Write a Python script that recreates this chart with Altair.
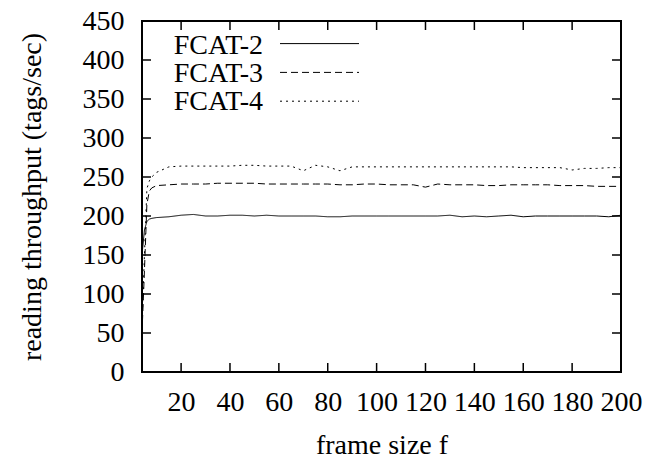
import altair as alt
import pandas as pd

# ---- data ----
frame_size = [4, 5, 6, 7, 8, 10, 15, 20, 25, 30, 35, 40, 45, 50, 55, 60, 65, 70, 75,
              80, 85, 90, 95, 100, 105, 110, 115, 120, 125, 130, 135, 140, 145, 150,
              155, 160, 165, 170, 175, 180, 185, 190, 195, 200]

fcat2 = [150, 182, 193, 196, 197, 198, 199, 201, 202, 200, 200, 201, 201, 200, 201,
         200, 200, 200, 200, 199, 199, 200, 200, 200, 200, 200, 200, 200, 200, 201,
         199, 200, 199, 200, 201, 199, 200, 200, 200, 200, 200, 200, 199, 201]

fcat3 = [50, 130, 215, 232, 236, 239, 240, 241, 241, 241, 242, 242, 242, 242, 241,
         241, 241, 241, 241, 241, 240, 240, 241, 241, 240, 240, 240, 237, 241, 240,
         240, 240, 239, 239, 240, 240, 240, 240, 239, 239, 239, 238, 238, 238]

fcat4 = [60, 150, 235, 245, 250, 256, 263, 264, 264, 264, 264, 264, 265, 265, 264,
         264, 264, 258, 265, 263, 258, 263, 263, 263, 263, 263, 263, 263, 263, 263,
         263, 263, 263, 263, 263, 262, 262, 262, 262, 259, 261, 261, 262, 262]

series_names = ["FCAT-2", "FCAT-3", "FCAT-4"]
series_dash = [[1, 0], [7, 4], [2, 4]]

x_ticks = [20, 40, 60, 80, 100, 120, 140, 160, 180, 200]
y_ticks = [0, 50, 100, 150, 200, 250, 300, 350, 400, 450]

FONT = "Liberation Serif"
W, H = 479, 351
TICK = 9

rows = []
for name, vals in zip(series_names, [fcat2, fcat3, fcat4]):
    for f, v in zip(frame_size, vals):
        rows.append({"f": f, "v": v, "series": name})
df = pd.DataFrame(rows)

xt = pd.DataFrame({"f": x_ticks})
yt = pd.DataFrame({"v": y_ticks})
leg = pd.DataFrame({"series": series_names,
                    "ty": [32.5 + i * 28.4 for i in range(3)],
                    "ly": [22.6 + i * 28.8 for i in range(3)]})

xscale = alt.Scale(domain=[4, 200], nice=False, zero=False)
yscale = alt.Scale(domain=[0, 450], nice=False)
xaxis = alt.Axis(values=x_ticks, title="frame size f", labelFlush=False,
                 labelOverlap=False, labelPadding=16, titlePadding=15)
yaxis = alt.Axis(values=y_ticks, title="reading throughput (tags/sec)",
                 labelOverlap=False, labelFlush=False, labelPadding=18, titlePadding=36)
X = alt.X("f:Q", scale=xscale, axis=xaxis)
Y = alt.Y("v:Q", scale=yscale, axis=yaxis)
dash = alt.StrokeDash("series:N", scale=alt.Scale(domain=series_names, range=series_dash), legend=None)

lines = alt.Chart(df).mark_line(color="black", strokeWidth=1).encode(
    x=X, y=Y, strokeDash=dash, detail="series:N")

bt = alt.Chart(xt).mark_rule(color="black", strokeWidth=1.5).encode(
    x=X, y=alt.value(H), y2=alt.value(H - TICK))
tt = alt.Chart(xt).mark_rule(color="black", strokeWidth=1.5).encode(
    x=X, y=alt.value(0), y2=alt.value(TICK))
lt = alt.Chart(yt).mark_rule(color="black", strokeWidth=1.5).encode(
    y=Y, x=alt.value(0), x2=alt.value(TICK))
rt = alt.Chart(yt).mark_rule(color="black", strokeWidth=1.5).encode(
    y=Y, x=alt.value(W), x2=alt.value(W - TICK))

leg_text = alt.Chart(leg).mark_text(font=FONT, fontSize=28, align="right",
                                    baseline="alphabetic", color="black").encode(
    x=alt.value(121), y=alt.Y("ty:Q", scale=None), text="series:N")
leg_line = alt.Chart(leg).mark_rule(color="black", strokeWidth=1).encode(
    x=alt.value(138), x2=alt.value(217), y=alt.Y("ly:Q", scale=None),
    strokeDash=dash)

chart = alt.layer(lines, bt, tt, lt, rt, leg_line, leg_text).properties(
    width=W, height=H,
    autosize=alt.AutoSizeParams(type="none"),
    padding={"left": 142, "top": 21, "right": 28, "bottom": 91},
    background="white",
).configure_view(stroke="black", strokeWidth=2).configure_axis(
    grid=False, domain=False, ticks=False,
    labelFont=FONT, labelFontSize=28, labelColor="black",
    titleFont=FONT, titleFontSize=28, titleColor="black", titleFontWeight="normal",
)

chart.save("out.html", embed_options={"renderer": "svg", "actions": False})
